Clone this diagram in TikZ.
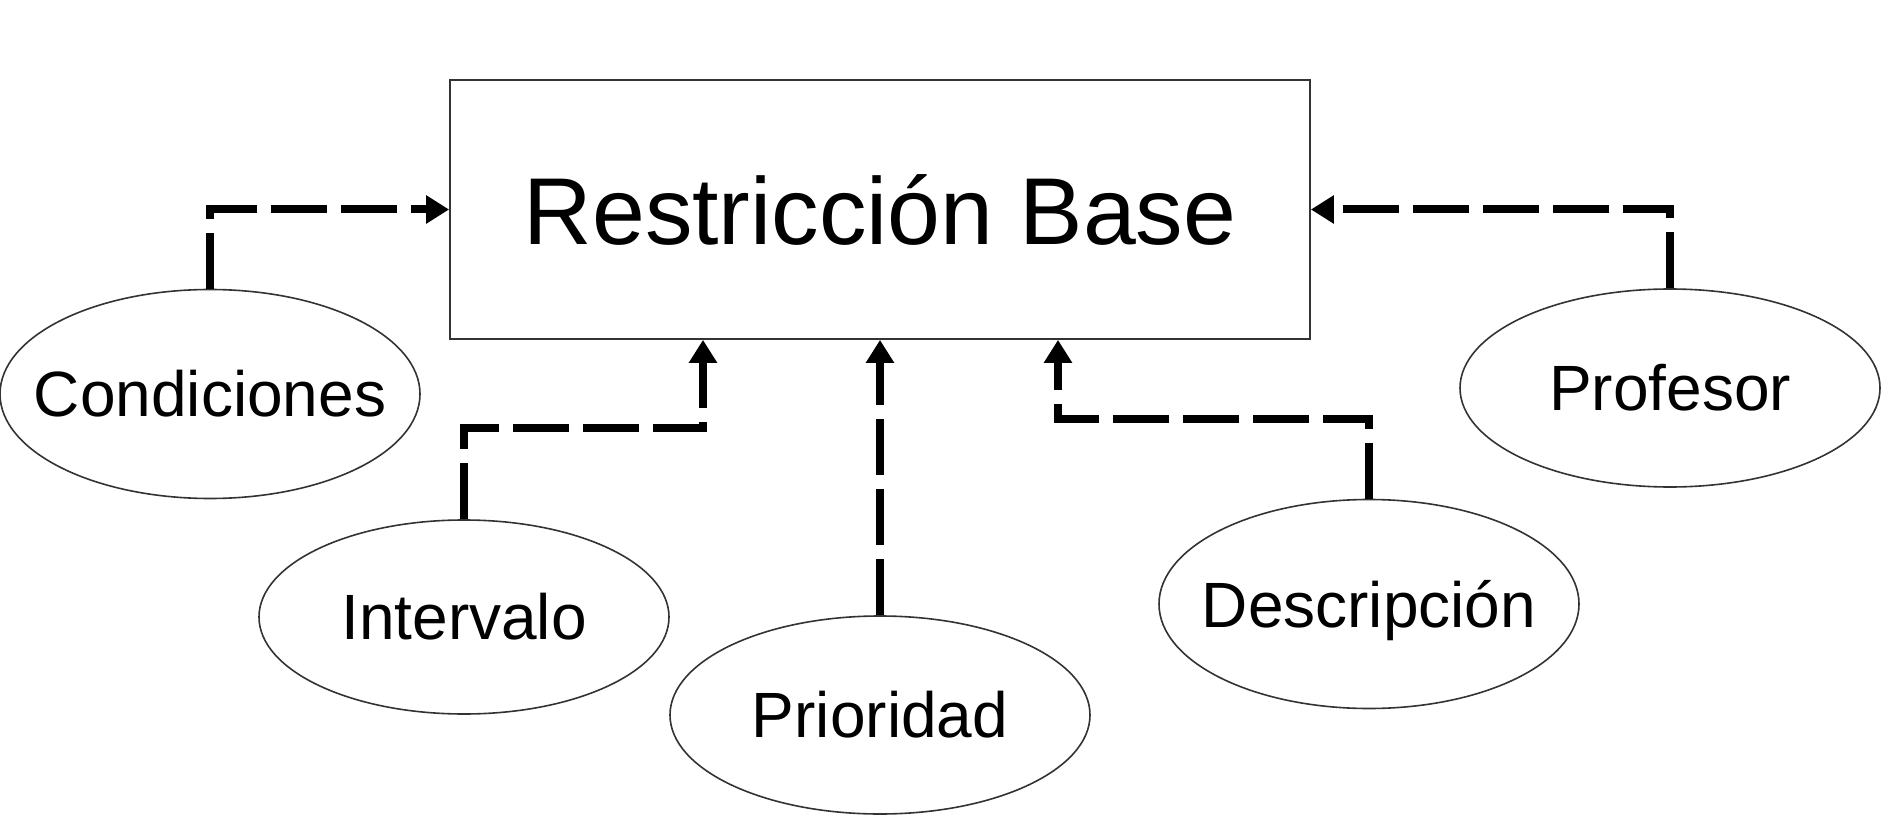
\documentclass[tikz,border=0pt]{standalone}
\usepackage{fontspec}
\setmainfont{Liberation Sans}
\usetikzlibrary{shapes.geometric,arrows.meta}
\begin{document}
\begin{tikzpicture}[x=1pt,y=-1pt,
  attr/.style={ellipse,draw=black!80,line width=1.6pt,inner sep=0pt,
    minimum width=420pt,minimum height=198pt,font=\fontsize{64}{70}\selectfont},
  conn/.style={line width=8pt,dash pattern=on 56pt off 14pt,
    -{Triangle[length=23pt,width=27pt]}}]
\useasboundingbox (0,0) rectangle (1900,834);
\node[draw=black!80,line width=1.8pt,minimum width=860pt,minimum height=259pt,inner sep=0pt,
  font=\fontsize{95}{100}\selectfont] (rect) at (880,209.5) {Restricción Base};
\node[attr,minimum height=209pt] (cond) at (210,394) {\makebox[0pt]{Condiciones}};
\node[attr,minimum width=410pt,minimum height=194pt] (int) at (464,617) {\makebox[0pt]{Intervalo}};
\node[attr] (pri) at (880,715) {\makebox[0pt]{Prioridad}};
\node[attr,minimum height=209pt] (des) at (1369,604) {\raisebox{0pt}[\height][0pt]{\makebox[0pt]{Descripción}}};
\node[attr] (pro) at (1670,388) {\makebox[0pt]{Profesor}};
\coordinate (ia) at (703,428);
\coordinate (da) at (1058,419);
\draw[conn] (cond.north) |- (rect.west);
\draw[conn] (pro.north) |- (rect.east);
\draw[conn] (int.north) |- (ia) -- (ia |- rect.south);
\draw[conn] (pri.north) -- (rect.south);
\draw[conn] (des.north) |- (da) -- (da |- rect.south);
\end{tikzpicture}
\end{document}
